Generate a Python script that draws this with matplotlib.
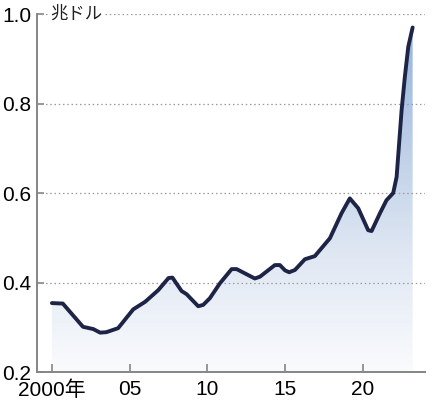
import numpy as np
import matplotlib
matplotlib.use("Agg")
import matplotlib.pyplot as plt
from matplotlib.colors import LinearSegmentedColormap

plt.rcParams["font.family"] = ["Liberation Sans", "Noto Sans CJK JP", "DejaVu Sans"]

# --------------------------------------------------------------------------- #
#  Data
# --------------------------------------------------------------------------- #
years = [2000.0, 2000.7, 2002.0, 2002.66, 2003.1, 2003.5, 2004.26, 2005.23,
         2006.0, 2006.84, 2007.5, 2007.75, 2008.34, 2008.66, 2009.41, 2009.73,
         2010.16, 2010.8, 2011.56, 2011.88, 2013.05, 2013.38, 2014.34, 2014.66,
         2015.0, 2015.26, 2015.63, 2016.27, 2016.91, 2017.88, 2018.63, 2019.16,
         2019.7, 2020.34, 2020.56, 2021.1, 2021.52, 2021.95, 2022.17, 2022.49,
         2022.70, 2022.92, 2023.2]
values = [0.354, 0.353, 0.301, 0.296, 0.288, 0.289, 0.298, 0.340,
          0.357, 0.383, 0.410, 0.411, 0.381, 0.374, 0.347, 0.350,
          0.365, 0.398, 0.430, 0.430, 0.409, 0.413, 0.439, 0.439,
          0.427, 0.423, 0.428, 0.452, 0.459, 0.499, 0.555, 0.588,
          0.566, 0.517, 0.515, 0.555, 0.584, 0.600, 0.636, 0.785,
          0.860, 0.927, 0.970]

x_ticks = [2000, 2005, 2010, 2015, 2020]
x_labels = ["2000年", "05", "10", "15", "20"]
y_ticks = [0.2, 0.4, 0.6, 0.8, 1.0]
y_labels = ["0.2", "0.4", "0.6", "0.8", "1.0"]
unit_label = "兆ドル"

LINE_COLOR = "#1e2446"
AXIS_COLOR = "#858585"

# --------------------------------------------------------------------------- #
#  Figure
# --------------------------------------------------------------------------- #
fig = plt.figure(figsize=(4.32, 4.04), dpi=100)
ax = fig.add_axes([0.0856, 0.0792, 0.898, 0.886])
ax.set_xlim(1999.04, 2023.99)
ax.set_ylim(0.2, 1.0)

# Gradient fill under the curve, clipped to the area polygon
area = ax.fill_between(years, values, 0.2, facecolor="none", edgecolor="none")
cmap = LinearSegmentedColormap.from_list(
    "fade", ["#fafbfd", "#dfe7f3", "#b9cce6", "#8eb1dd"])
grad = np.linspace(0, 1, 256).reshape(-1, 1)
img = ax.imshow(grad, cmap=cmap, origin="lower", aspect="auto",
                extent=[1999.04, 2023.99, 0.2, 1.0], zorder=1)
img.set_clip_path(area.get_paths()[0], transform=ax.transData)

# Dotted gridlines
for yv in y_ticks[1:]:
    ax.axhline(yv, color="#9a9a9a", linewidth=0.9, linestyle=(0, (1.2, 2.2)),
               zorder=2)

ax.plot(years, values, color=LINE_COLOR, linewidth=2.8,
        solid_capstyle="round", solid_joinstyle="round", zorder=3)

# Axes styling
for side in ("top", "right"):
    ax.spines[side].set_visible(False)
for side in ("left", "bottom"):
    ax.spines[side].set_color(AXIS_COLOR)
    ax.spines[side].set_linewidth(1.4)

ax.set_xticks(x_ticks)
ax.set_xticklabels(x_labels, fontsize=15)
ax.set_yticks(y_ticks)
ax.set_yticklabels(y_labels, fontsize=15)
ax.tick_params(axis="x", direction="in", length=6, width=1.2,
               color=AXIS_COLOR, pad=6)
ax.tick_params(axis="y", direction="in", length=5, width=1.2,
               color=AXIS_COLOR, pad=4)

ax.text(1999.88, 1.0, unit_label, fontsize=12.5, ha="left", va="center",
        family=["Noto Sans CJK JP", "DejaVu Sans"], color="#222222",
        bbox=dict(facecolor="white", edgecolor="none", pad=1.5),
        zorder=5, clip_on=False)

fig.savefig("out.png", dpi=100)
